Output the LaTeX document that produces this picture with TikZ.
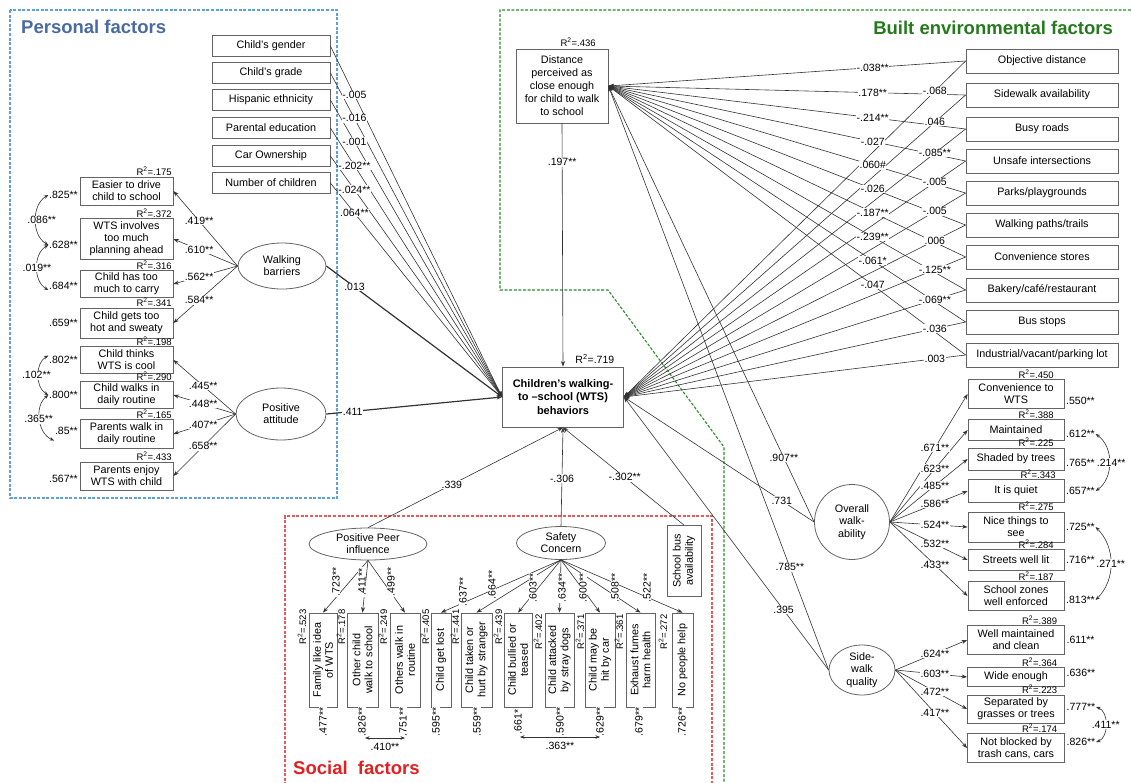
\documentclass[tikz,border=0pt]{standalone}
\usepackage{fontspec}
\setmainfont{Liberation Sans}
\usetikzlibrary{arrows.meta,shapes.geometric,calc}
\definecolor{pbluet}{RGB}{74,106,163}
\definecolor{pblued}{RGB}{92,160,222}
\definecolor{greent}{RGB}{36,122,28}
\definecolor{greend}{RGB}{44,140,44}
\definecolor{redt}{RGB}{226,32,32}
\definecolor{redd}{RGB}{232,90,90}
\definecolor{ln}{RGB}{50,50,50}
\definecolor{bx}{RGB}{100,100,100}
\newcommand{\Rsq}[1]{R\textsuperscript{2}=#1}
\begin{document}
\begin{tikzpicture}[x=1pt,y=-1pt,
  box/.style={draw=bx,line width=0.8pt,fill=white,align=center,inner sep=1pt,font=\fontsize{10.8}{12.2}\selectfont},
  vbox/.style={box,rotate=90},
  lat/.style={draw=bx,line width=0.8pt,ellipse,fill=white,align=center,inner sep=0pt,font=\fontsize{10.8}{12.2}\selectfont},
  lab/.style={fill=white,inner sep=0.6pt,font=\fontsize{10.5}{11}\selectfont},
  vlab/.style={lab,rotate=90},
  rsq/.style={inner sep=0.5pt,font=\fontsize{9.5}{10}\selectfont},
  vrsq/.style={rsq,rotate=90},
  pth/.style={draw=ln,line width=0.6pt,-{Stealth[length=5.5pt,width=4pt]}},
  thk/.style={pth,line width=1.2pt},
  cov/.style={draw=ln,line width=0.6pt,{Stealth[length=4.5pt,width=3.5pt]}-{Stealth[length=4.5pt,width=3.5pt]}},
  ttl/.style={font=\bfseries\fontsize{18.5}{20}\selectfont,inner sep=0pt},
  frame/.style={dash pattern=on 3pt off 1.6pt,line width=1.1pt}
]
\useasboundingbox (0,0) rectangle (1132,782);
% ---------------- frames
\draw[frame,pblued] (10,10) rectangle (337,498);
\draw[frame,greend] (1140,10) -- (500,10) -- (500,290) -- (608,290) -- (724,447) -- (724,790);
\draw[frame,redd] (285,790) -- (285,516) -- (712,516) -- (712,790);
% ---------------- titles
\node[ttl,text=pbluet,anchor=west] (tp) at (21,27) {Personal factors};
\node[ttl,text=greent,anchor=east] (tb) at (1113,28) {Built environmental factors};
\node[ttl,text=redt,anchor=west] (ts) at (293,768) {Social\ \ factors};
% ---------------- main nodes
\node[box,font=\bfseries\fontsize{11}{13.5}\selectfont,minimum width=121pt,minimum height=60pt] (wts) at (563,397) {Children's walking-\\to --school (WTS)\\behaviors};
\node[box,font=\fontsize{10.8}{13}\selectfont,minimum width=92pt,minimum height=74pt] (dist) at (562,86) {Distance\\perceived as\\close enough\\for child to walk\\to school};
% ---------------- personal
\node[box,minimum width=118pt,minimum height=21pt] (g1) at (271,46) {Child's gender};
\node[box,minimum width=118pt,minimum height=21pt] (g2) at (271,73) {Child's grade};
\node[box,minimum width=118pt,minimum height=21pt] (g3) at (271,100) {Hispanic ethnicity};
\node[box,minimum width=118pt,minimum height=21pt] (g4) at (271,128) {Parental education};
\node[box,minimum width=118pt,minimum height=21pt] (g5) at (271,156) {Car Ownership};
\node[box,minimum width=118pt,minimum height=21pt] (g6) at (271,183) {Number of children};
\node[box,minimum width=93pt,minimum height=28pt] (e1) at (126.5,191) {Easier to drive\\child to school};
\node[box,minimum width=93pt,minimum height=41pt] (e2) at (126.5,239) {WTS involves\\too much\\planning ahead};
\node[box,minimum width=93pt,minimum height=27pt] (e3) at (126.5,284) {Child has too\\much to carry};
\node[box,minimum width=93pt,minimum height=30pt] (e4) at (126.5,323) {Child gets too\\hot and sweaty};
\node[box,minimum width=93pt,minimum height=27pt] (e5) at (126.5,360) {Child thinks\\WTS is cool};
\node[box,minimum width=93pt,minimum height=27pt] (e6) at (126.5,395) {Child walks in\\daily routine};
\node[box,minimum width=93pt,minimum height=29pt] (e7) at (126.5,434) {Parents walk in\\daily routine};
\node[box,minimum width=93pt,minimum height=28pt] (e8) at (126.5,476) {Parents enjoy\\WTS with child};
\node[lat,minimum width=88pt,minimum height=46pt] (wb) at (282,266) {Walking\\barriers};
\node[lat,minimum width=90pt,minimum height=52pt] (pa) at (281,414) {Positive\\attitude};
% ---------------- built environment
\node[box,minimum width=152pt,minimum height=24pt] (b1) at (1042,61) {Objective distance};
\node[box,minimum width=152pt,minimum height=24pt] (b2) at (1042,95) {Sidewalk availability};
\node[box,minimum width=152pt,minimum height=24pt] (b3) at (1042,129) {Busy roads};
\node[box,minimum width=152pt,minimum height=24pt] (b4) at (1042,161) {Unsafe intersections};
\node[box,minimum width=152pt,minimum height=24pt] (b5) at (1042,193) {Parks/playgrounds};
\node[box,minimum width=152pt,minimum height=24pt] (b6) at (1042,225) {Walking paths/trails};
\node[box,minimum width=152pt,minimum height=24pt] (b7) at (1042,257) {Convenience stores};
\node[box,minimum width=152pt,minimum height=24pt] (b8) at (1042,290) {Bakery/café/restaurant};
\node[box,minimum width=152pt,minimum height=24pt] (b9) at (1042,322) {Bus stops};
\node[box,minimum width=152pt,minimum height=24pt] (b10) at (1042,355) {Industrial/vacant/parking lot};
\node[circle,draw=bx,line width=0.8pt,fill=white,align=center,inner sep=0pt,minimum size=75pt,font=\fontsize{10.8}{12.2}\selectfont] (ow) at (852,522) {Overall\\walk-\\ability};
\node[lat,minimum width=66pt,minimum height=50pt] (sq) at (862,670) {Side-\\walk\\quality};
\node[box,minimum width=96pt,minimum height=29pt] (c1) at (1016,394) {Convenience to\\WTS};
\node[box,minimum width=96pt,minimum height=21pt] (c2) at (1016,430) {Maintained};
\node[box,minimum width=96pt,minimum height=22pt] (c3) at (1016,459) {Shaded by trees};
\node[box,minimum width=96pt,minimum height=23pt] (c4) at (1016,491) {It is quiet};
\node[box,minimum width=96pt,minimum height=30pt] (c5) at (1016,527) {Nice things to\\see};
\node[box,minimum width=96pt,minimum height=21pt] (c6) at (1016,560) {Streets well lit};
\node[box,minimum width=96pt,minimum height=29pt] (c7) at (1016,596) {School zones\\well enforced};
\node[box,minimum width=97pt,minimum height=29pt] (s1) at (1016,640) {Well maintained\\and clean};
\node[box,minimum width=97pt,minimum height=19pt] (s2) at (1016,677) {Wide enough};
\node[box,minimum width=97pt,minimum height=28pt] (s3) at (1016,709) {Separated by\\grasses or trees};
\node[box,minimum width=97pt,minimum height=29pt] (s4) at (1016,748) {Not blocked by\\trash cans, cars};
% ---------------- social
\node[lat,minimum width=118pt,minimum height=32pt] (pp) at (368,544) {Positive Peer\\influence};
\node[lat,minimum width=89pt,minimum height=33pt] (sc) at (561,543) {Safety\\Concern};
\node[vbox,minimum width=71pt,minimum height=34pt] (sb) at (684,561) {School bus\\availability};
\node[vbox,minimum width=94pt,minimum height=28pt] (f1) at (323,660) {Family like idea\\of WTS};
\node[vbox,minimum width=94pt,minimum height=31pt] (f2) at (362.5,660) {Other child\\walk to school};
\node[vbox,minimum width=94pt,minimum height=30pt] (f3) at (405,660) {Others walk in\\routine};
\node[vbox,minimum width=94pt,minimum height=20pt] (f4) at (441,660) {Child get lost};
\node[vbox,minimum width=94pt,minimum height=31pt] (f5) at (476.5,660) {Child taken or\\hurt by stranger};
\node[vbox,minimum width=94pt,minimum height=28pt] (f6) at (518,660) {Child bullied or\\teased};
\node[vbox,minimum width=94pt,minimum height=29pt] (f7) at (559.5,660) {Child attacked\\by stray dogs};
\node[vbox,minimum width=94pt,minimum height=30pt] (f8) at (600,660) {Child may be\\hit by car};
\node[vbox,minimum width=94pt,minimum height=29pt] (f9) at (640.5,660) {Exhaust fumes\\harm health};
\node[vbox,minimum width=94pt,minimum height=21pt] (f10) at (682.5,660) {No people help};
% ---------------- connectors
\draw[pth] (dist.south) -- coordinate[pos=0.16] (l197) (wts.north);
\foreach \k in {1,...,6} \draw[pth] (g\k.east) -- coordinate[pos=0.14] (lg\k) (wts.west);
\draw[thk] (wb.east) -- coordinate[pos=0.16] (l013) (wts.west);
\draw[thk] (pa.east) -- coordinate[pos=0.15] (l411) (wts.west);
\foreach \k in {1,...,4} \draw[pth] (wb.west) -- coordinate[pos=0.6] (le\k) (e\k.east);
\foreach \k in {5,...,8} \draw[pth] (pa.west) -- coordinate[pos=0.52] (le\k) (e\k.east);
\foreach \k in {1,...,10} {
  \draw[pth] (b\k.west) -- coordinate[pos=0.26] (ld\k) (dist.east);
  \draw[pth] (b\k.west) -- coordinate[pos=0.09] (lw\k) (wts.east);
}
\draw[pth] (ow.west) -- coordinate[pos=0.147] (l907) (dist.east);
\draw[pth] (sq.west) -- coordinate[pos=0.176] (l785) (dist.east);
\draw[pth] (ow.west) -- coordinate[pos=0.17] (l731) (wts.east);
\draw[pth] (sq.west) -- coordinate[pos=0.22] (l395) (wts.east);
\foreach \k in {1,...,7} \draw[pth] (ow.east) -- coordinate[pos=0.58] (lc\k) (c\k.west);
\foreach \k in {1,...,4} \draw[pth] (sq.east) -- coordinate[pos=0.55] (ls\k) (s\k.west);
\draw[pth] (pp.north) -- coordinate[pos=0.43] (l339) (wts.south);
\draw[pth] (sc.north) -- coordinate[pos=0.48] (l306) (wts.south);
\draw[pth] (sb.east) -- coordinate[pos=0.49] (l302) (wts.south);
\foreach \k in {1,2,3} \draw[pth] (pp.south) -- (f\k.east);
\foreach \k in {4,...,10} \draw[pth] (sc.south) -- (f\k.east);
% ---------------- path labels
\node[lab] at (l197) {.197**};
\node[lab] at (l013) {.013};
\node[lab] at (l411) {.411};
\node[lab] at (lg1) {-.005};
\node[lab] at (lg2) {-.016};
\node[lab] at (lg3) {-.001};
\node[lab] at (lg4) {-.202**};
\node[lab] at (lg5) {-.024**};
\node[lab] at (lg6) {.064**};
\node[lab] at (le1) {.419**};
\node[lab] at (le2) {.610**};
\node[lab] at (le3) {.562**};
\node[lab] at (le4) {.584**};
\node[lab] at (le5) {.445**};
\node[lab] at (le6) {.448**};
\node[lab] at (le7) {.407**};
\node[lab] at (le8) {.658**};
\node[lab] at (ld1) {-.038**};
\node[lab] at (ld2) {.178**};
\node[lab] at (ld3) {-.214**};
\node[lab] at (ld4) {-.027};
\node[lab] at (ld5) {.060\#};
\node[lab] at (ld6) {-.026};
\node[lab] at (ld7) {-.187**};
\node[lab] at (ld8) {-.239**};
\node[lab] at (ld9) {-.061*};
\node[lab] at (ld10) {-.047};
\node[lab] at (lw1) {-.068};
\node[lab] at (lw2) {.046};
\node[lab] at (lw3) {-.085**};
\node[lab] at (lw4) {-.005};
\node[lab] at (lw5) {-.005};
\node[lab] at (lw6) {.006};
\node[lab] at (lw7) {-.125**};
\node[lab] at (lw8) {-.069**};
\node[lab] at (lw9) {-.036};
\node[lab] at (lw10) {.003};
\node[lab] at (l907) {.907**};
\node[lab] at (l785) {.785**};
\node[lab] at (l731) {.731};
\node[lab] at (l395) {.395};
\node[lab] at (lc1) {.671**};
\node[lab] at (lc2) {.623**};
\node[lab] at (lc3) {.485**};
\node[lab] at (lc4) {.586**};
\node[lab] at (lc5) {.524**};
\node[lab] at (lc6) {.532**};
\node[lab] at (lc7) {.433**};
\node[lab] at (ls1) {.624**};
\node[lab] at (ls2) {.603**};
\node[lab] at (ls3) {.472**};
\node[lab] at (ls4) {.417**};
\node[lab] at (l339) {.339};
\node[lab] at (l306) {-.306};
\node[lab] at (l302) {-.302**};
% social loadings
\node[vlab] at (336,582) {.723**};
\node[vlab] at (362,582) {.411**};
\node[vlab] at (391,582) {.499**};
\node[vlab] at (463,592) {.637**};
\node[vlab] at (492,585) {.664**};
\node[vlab] at (533,588) {.603**};
\node[vlab] at (562,588) {.634**};
\node[vlab] at (583,588) {.600**};
\node[vlab] at (615,588) {.508**};
\node[vlab] at (647,588) {.522**};
% ---------------- R squared
\node[rsq,font=\fontsize{10.5}{11}\selectfont,anchor=south east] at ([xshift=-9pt,yshift=2pt]wts.north east) {\Rsq{.719}};
\node[rsq,anchor=south east] at ([xshift=-12pt,yshift=1pt]dist.north east) {\Rsq{.436}};
\node[rsq,anchor=south east] at ([xshift=-1pt]e1.north east) {\Rsq{.175}};
\node[rsq,anchor=south east] at ([xshift=-1pt]e2.north east) {\Rsq{.372}};
\node[rsq,anchor=south east] at ([xshift=-1pt]e3.north east) {\Rsq{.316}};
\node[rsq,anchor=south east] at ([xshift=-1pt]e4.north east) {\Rsq{.341}};
\node[rsq,anchor=south east] at ([xshift=-1pt]e5.north east) {\Rsq{.198}};
\node[rsq,anchor=south east] at ([xshift=-1pt]e6.north east) {\Rsq{.290}};
\node[rsq,anchor=south east] at ([xshift=-1pt]e7.north east) {\Rsq{.165}};
\node[rsq,anchor=south east] at ([xshift=-1pt]e8.north east) {\Rsq{.433}};
\node[rsq,anchor=south east] at ([xshift=-10pt]c1.north east) {\Rsq{.450}};
\node[rsq,anchor=south east] at ([xshift=-10pt]c2.north east) {\Rsq{.388}};
\node[rsq,anchor=south east] at ([xshift=-10pt]c3.north east) {\Rsq{.225}};
\node[rsq,anchor=south east] at ([xshift=-8pt]c4.north east) {\Rsq{.343}};
\node[rsq,anchor=south east] at ([xshift=-10pt]c5.north east) {\Rsq{.275}};
\node[rsq,anchor=south east] at ([xshift=-10pt]c6.north east) {\Rsq{.284}};
\node[rsq,anchor=south east] at ([xshift=-10pt]c7.north east) {\Rsq{.187}};
\node[rsq,anchor=south east] at ([xshift=-7pt]s1.north east) {\Rsq{.389}};
\node[rsq,anchor=south east] at ([xshift=-7pt]s2.north east) {\Rsq{.364}};
\node[rsq,anchor=south east] at ([xshift=-7pt]s3.north east) {\Rsq{.223}};
\node[rsq,anchor=south east] at ([xshift=-7pt]s4.north east) {\Rsq{.174}};
\node[vrsq] at (302,627) {\Rsq{.523}};
\node[vrsq] at (341,627) {\Rsq{.178}};
\node[vrsq] at (383,627) {\Rsq{.249}};
\node[vrsq] at (425,627) {\Rsq{.405}};
\node[vrsq] at (455,627) {\Rsq{.441}};
\node[vrsq] at (498,627) {\Rsq{.439}};
\node[vrsq] at (538,632) {\Rsq{.402}};
\node[vrsq] at (580,632) {\Rsq{.371}};
\node[vrsq] at (619,632) {\Rsq{.361}};
\node[vrsq] at (663,632) {\Rsq{.272}};
% ---------------- residual labels
\node[lab,anchor=east] (re1) at ([xshift=-1pt,yshift=-4pt]e1.west) {.825**};
\node[lab,anchor=east] (re2) at ([xshift=-1pt,yshift=-6pt]e2.west) {.628**};
\node[lab,anchor=east] (re3) at ([xshift=-1pt,yshift=-2pt]e3.west) {.684**};
\node[lab,anchor=east] (re4) at ([xshift=-1pt]e4.west) {.659**};
\node[lab,anchor=east] (re5) at ([xshift=-1pt]e5.west) {.802**};
\node[lab,anchor=east] (re6) at ([xshift=-1pt]e6.west) {.800**};
\node[lab,anchor=east] (re7) at ([xshift=-1pt,yshift=3pt]e7.west) {.85**};
\node[lab,anchor=east] (re8) at ([xshift=-1pt,yshift=-3pt]e8.west) {.567**};
\node[lab,anchor=west] (rc1) at ([xshift=1pt,yshift=-7pt]c1.east) {.550**};
\node[lab,anchor=west] (rc2) at ([xshift=1pt,yshift=-4pt]c2.east) {.612**};
\node[lab,anchor=west] (rc3) at ([xshift=1pt,yshift=-4pt]c3.east) {.765**};
\node[lab,anchor=west] (rc4) at ([xshift=1pt]c4.east) {.657**};
\node[lab,anchor=west] (rc5) at ([xshift=1pt]c5.east) {.725**};
\node[lab,anchor=west] (rc6) at ([xshift=1pt]c6.east) {.716**};
\node[lab,anchor=west] (rc7) at ([xshift=1pt,yshift=-4pt]c7.east) {.813**};
\node[lab,anchor=west] (rs1) at ([xshift=1pt]s1.east) {.611**};
\node[lab,anchor=west] (rs2) at ([xshift=1pt,yshift=4pt]s2.east) {.636**};
\node[lab,anchor=west] (rs3) at ([xshift=1pt,yshift=2pt]s3.east) {.777**};
\node[lab,anchor=west] (rs4) at ([xshift=1pt,yshift=6pt]s4.east) {.826**};
\node[vlab] (rf1) at (323,722) {.477**};
\node[vlab] (rf2) at (362,722) {.826**};
\node[vlab] (rf3) at (403,722) {.751**};
\node[vlab] (rf4) at (436,722) {.595**};
\node[vlab] (rf5) at (477,722) {.559**};
\node[vlab] (rf6) at (518,722) {.661*};
\node[vlab] (rf7) at (560,722) {.590**};
\node[vlab] (rf8) at (600,722) {.629**};
\node[vlab] (rf9) at (639,722) {.679**};
\node[vlab] (rf10) at (682,722) {.726**};
% ---------------- correlations
\draw[cov] (re1.west) to[bend right=60] node[lab,midway,xshift=6pt]{.086**} (re2.west);
\draw[cov] (re2.west) to[bend right=60] node[lab,midway]{.019**} ([yshift=-4pt]re3.west);
\draw[cov] (re5.north west) to[bend right=60] node[lab,midway,xshift=-2pt]{.102**} (re6.west);
\draw[cov] (re6.west) to[bend right=60] node[lab,midway,xshift=-1pt]{.365**} ([yshift=-5pt]re7.south west);
\draw[cov] (rc2.east) to[bend left=55] node[lab,midway,xshift=2pt]{.214**} (rc4.east);
\draw[cov] (rc5.east) to[bend left=45] node[lab,midway]{.271**} (rc7.east);
\draw[cov] (rs3.east) to[bend left=70] node[lab,midway]{.411**} (rs4.east);
\draw[cov] ($(rf2.center)+(3,16)$) -- node[midway,anchor=north,yshift=-4pt,inner sep=0.5pt,font=\fontsize{10.5}{11}\selectfont]{.410**} ($(rf3.center)+(2,16)$);
\draw[cov] ($(rf6.center)+(2,15)$) -- node[midway,anchor=north,yshift=-4pt,inner sep=0.5pt,font=\fontsize{10.5}{11}\selectfont]{.363**} ($(rf8.center)+(0,15)$);
\end{tikzpicture}
\end{document}
